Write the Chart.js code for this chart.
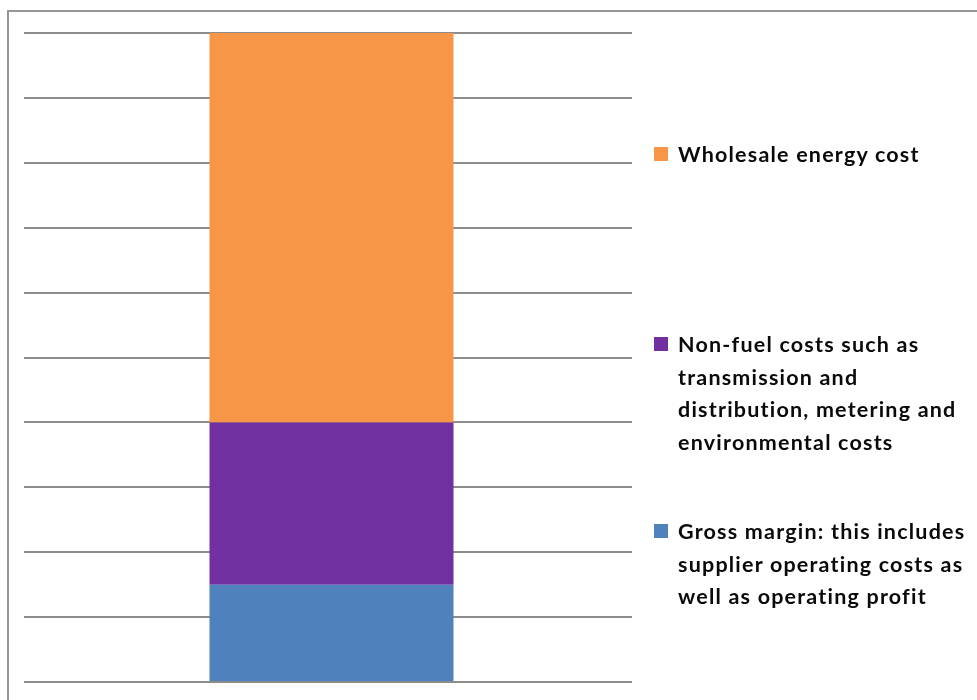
<!DOCTYPE html>
<html>
<head>
<meta charset="utf-8">
<script src="https://cdn.jsdelivr.net/npm/chart.js@4.4.1/dist/chart.umd.min.js"></script>
<style>
body{margin:0;background:#fff;overflow:hidden;}
#wrap{position:relative;width:977px;height:700px;}
#frame{position:absolute;left:7px;top:10px;width:1000px;height:1000px;border:2px solid #969696;box-sizing:border-box;}
#c{position:absolute;left:0;top:0;}
.item{position:absolute;left:654px;font-family:Lato,"Open Sans",sans-serif;font-weight:bold;font-size:21.5px;letter-spacing:1.2px;color:#0a0a0a;line-height:32.6px;white-space:nowrap;}
.sw{position:absolute;left:0;width:14px;height:14px;}
.txt{position:absolute;left:24px;top:0;}
</style>
</head>
<body>
<div id="wrap">
<div id="frame"></div>
<canvas id="c" width="977" height="700"></canvas>
<div id="legend"></div>
</div>
<script>

const categories = [""];

const grossMargin = [1.5];
const nonFuel = [2.5];
const wholesale = [6.0];

const seriesNames = [
["Gross margin: this includes","supplier operating costs as","well as operating profit"],
["Non-fuel costs such as","transmission and","distribution, metering and","environmental costs"],
["Wholesale energy cost"]
];

const seriesColors = ["#4F81BD","#7030A0","#F79646"];

// legend tops (top of first text line), top-to-bottom order is reversed
const legendTops = [515,328,138];


const chart =
new Chart(
document.getElementById("c"),
{

type:"bar",

data:{

labels:categories,

datasets:[
{label:seriesNames[0].join(" "),data:grossMargin,backgroundColor:seriesColors[0]},
{label:seriesNames[1].join(" "),data:nonFuel,backgroundColor:seriesColors[1]},
{label:seriesNames[2].join(" "),data:wholesale,backgroundColor:seriesColors[2]}
]

},

options:{

responsive:false,
animation:false,

layout:{padding:{left:24,top:33,right:345,bottom:18}},

datasets:{bar:{categoryPercentage:0.8,barPercentage:0.5075,borderWidth:0}},

plugins:{legend:{display:false},tooltip:{enabled:false}},

scales:{

x:{stacked:true,display:false,offset:true},

y:{
stacked:true,
min:0,
max:10,
ticks:{display:false,stepSize:1},
grid:{color:"#8c8c8c",lineWidth:2,drawTicks:true,tickLength:7},
border:{display:false}
}

}

}

});


// html legend, built from the same arrays
const legend = document.getElementById("legend");

for(let i=2;i>=0;i--){

const item = document.createElement("div");
item.className = "item";
item.style.top = legendTops[i]+"px";

const sw = document.createElement("div");
sw.className = "sw";
sw.style.background = seriesColors[i];
sw.style.top = "9px";
item.appendChild(sw);

const txt = document.createElement("div");
txt.className = "txt";
txt.innerHTML = seriesNames[i].join("<br>");
item.appendChild(txt);

legend.appendChild(item);

}

</script>
</body>
</html>
